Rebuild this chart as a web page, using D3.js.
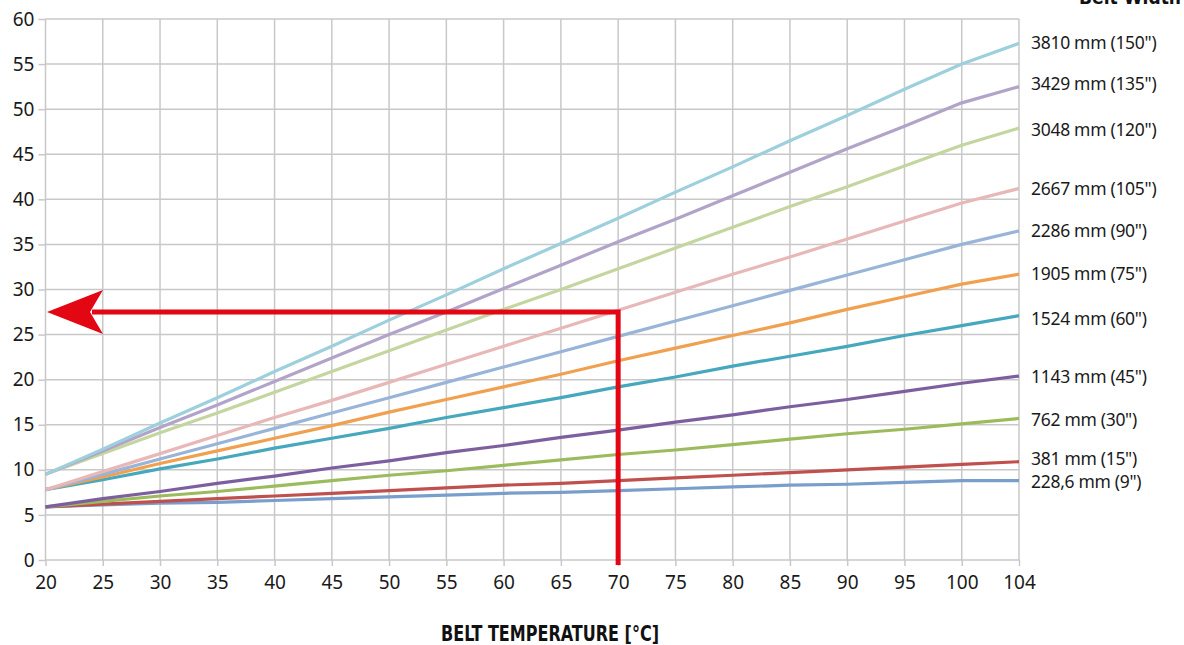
<!DOCTYPE html>
<html>
<head>
<meta charset="utf-8">
<script src="https://cdn.jsdelivr.net/npm/d3@7"></script>
<style>
  html, body { margin: 0; padding: 0; background: #fff; }
  svg { display: block; }
</style>
</head>
<body>
<svg id="chart" width="1184" height="645"></svg>
<script>
// ---- data ----
const categories = ["20","25","30","35","40","45","50","55","60","65","70","75","80","85","90","95","100","104"];
const yTicks = [0,5,10,15,20,25,30,35,40,45,50,55,60];
const seriesNames = ["3810 mm (150\")","3429 mm (135\")","3048 mm (120\")","2667 mm (105\")","2286 mm (90\")","1905 mm (75\")","1524 mm (60\")","1143 mm (45\")","762 mm (30\")","381 mm (15\")","228,6 mm (9\")"];
const s3810 = [9.5,12.3,15.2,18.0,20.9,23.7,26.6,29.4,32.3,35.1,37.9,40.8,43.6,46.5,49.3,52.2,55.0,57.3];
const s3429 = [9.5,12.1,14.7,17.2,19.8,22.4,25.0,27.5,30.1,32.7,35.3,37.8,40.4,43.0,45.6,48.1,50.7,52.5];
const s3048 = [9.5,11.8,14.1,16.3,18.6,20.9,23.2,25.5,27.8,30.0,32.3,34.6,36.9,39.2,41.4,43.7,46.0,47.9];
const s2667 = [7.8,9.8,11.8,13.8,15.8,17.7,19.7,21.7,23.7,25.7,27.7,29.7,31.7,33.6,35.6,37.6,39.6,41.2];
const s2286 = [7.8,9.5,11.2,12.9,14.6,16.3,18.0,19.7,21.4,23.1,24.8,26.5,28.2,29.9,31.6,33.3,35.0,36.5];
const s1905 = [7.8,9.2,10.7,12.1,13.5,14.9,16.4,17.8,19.2,20.6,22.1,23.5,24.9,26.3,27.8,29.2,30.6,31.7];
const s1524 = [7.8,8.9,10.1,11.2,12.4,13.5,14.6,15.8,16.9,18.0,19.2,20.3,21.5,22.6,23.7,24.9,26.0,27.1];
const s1143 = [5.9,6.8,7.6,8.5,9.3,10.2,11.0,11.9,12.7,13.6,14.4,15.3,16.1,17.0,17.8,18.7,19.6,20.4];
const s762  = [5.9,6.5,7.1,7.6,8.2,8.8,9.4,9.9,10.5,11.1,11.7,12.2,12.8,13.4,14.0,14.5,15.1,15.7];
const s381  = [5.9,6.2,6.5,6.8,7.1,7.4,7.7,8.0,8.3,8.5,8.8,9.1,9.4,9.7,10.0,10.3,10.6,10.9];
const s2286mm = [5.9,6.1,6.3,6.4,6.6,6.8,7.0,7.2,7.4,7.5,7.7,7.9,8.1,8.3,8.4,8.6,8.8,8.8];
const seriesValues = [s3810,s3429,s3048,s2667,s2286,s1905,s1524,s1143,s762,s381,s2286mm];
const seriesColors = ["#9dd0dc","#b2a3c9","#c4d69f","#e7b8b7","#98b4d8","#f0a04f","#45a8bd","#7d5fa0","#9cbb5c","#c0504d","#7a9ecb"];
const labelDy = [0,-3,2,0,0,0,3,1,1,-3,1];
const xTitle = "BELT TEMPERATURE [°C]";
const legendTitle = "Belt Width";
const arrowTemp = "70";
const arrowValue = 27.5;

// ---- layout ----
const svg = d3.select("#chart");
const mLeft = 45.5, mRight = 1019, mTop = 19, mBottom = 560;
const x = d3.scalePoint().domain(categories).range([mLeft, mRight]);
const y = d3.scaleLinear().domain([0, 60]).range([mBottom, mTop]);
const fontMain = "'Noto Sans', 'Open Sans', sans-serif";
const gridColor = "#c8c8c8";

// grid
svg.append("g").selectAll("line").data(yTicks).join("line")
  .attr("x1", mLeft).attr("x2", mRight)
  .attr("y1", d => y(d)).attr("y2", d => y(d))
  .attr("stroke", gridColor).attr("stroke-width", 1.5);
svg.append("g").selectAll("line").data(categories).join("line")
  .attr("x1", d => x(d)).attr("x2", d => x(d))
  .attr("y1", mTop).attr("y2", mBottom)
  .attr("stroke", gridColor).attr("stroke-width", 1.5);

// axes
const xAxis = svg.append("g").attr("transform", `translate(0,${mBottom})`)
  .call(d3.axisBottom(x).tickSize(6).tickPadding(14));
const yAxis = svg.append("g").attr("transform", `translate(${mLeft},0)`)
  .call(d3.axisLeft(y).tickValues(yTicks).tickSize(7).tickPadding(4));
[xAxis, yAxis].forEach(g => {
  g.select(".domain").remove();
  g.selectAll(".tick line").attr("stroke", gridColor).attr("stroke-width", 1.5);
  g.selectAll(".tick text").attr("fill", "#1a1a1a")
    .style("font-family", fontMain).style("font-size", "19px");
});
xAxis.selectAll(".tick text").attr("dy", "0.45em");

// lines
const line = d3.line().x((d, i) => x(categories[i])).y(d => y(d));
const order = d3.range(seriesValues.length).reverse();
svg.append("g").selectAll("path").data(order).join("path")
  .attr("d", i => line(seriesValues[i]))
  .attr("fill", "none")
  .attr("stroke", i => seriesColors[i])
  .attr("stroke-width", 3.2)
  .attr("stroke-linejoin", "round");

// series labels
svg.append("g").selectAll("text").data(seriesNames).join("text")
  .attr("x", mRight + 12)
  .attr("y", (d, i) => y(seriesValues[i][seriesValues[i].length - 1]) + labelDy[i])
  .attr("dy", "0.35em")
  .attr("fill", "#1a1a1a")
  .style("font-family", fontMain).style("font-size", "17.5px")
  .style("letter-spacing", "-0.3px")
  .text(d => d);

// legend title (clipped at top, as in the reference)
svg.append("text")
  .attr("x", 1181).attr("y", 4)
  .attr("text-anchor", "end")
  .attr("fill", "#111")
  .style("font-family", "'Liberation Sans Narrow', 'DejaVu Sans Condensed', 'Roboto', sans-serif")
  .style("font-weight", "bold").style("font-size", "19px")
  .text(legendTitle);

// x title
svg.append("text")
  .attr("x", (441 + 659) / 2).attr("y", 641)
  .attr("text-anchor", "middle")
  .attr("fill", "#111")
  .attr("textLength", 218).attr("lengthAdjust", "spacingAndGlyphs")
  .style("font-family", "'Liberation Sans Narrow', 'DejaVu Sans Condensed', 'Roboto', sans-serif")
  .style("font-weight", "bold").style("font-size", "22px")
  .text(xTitle);

// red arrow
const red = "#e30613";
const ax = x(arrowTemp), ay = y(arrowValue);
const tipX = x(categories[0]) + 1.5;
svg.append("path")
  .attr("d", `M${ax},${mBottom + 5} L${ax},${ay} L${tipX + 45},${ay}`)
  .attr("fill", "none").attr("stroke", red).attr("stroke-width", 5)
  .attr("stroke-linejoin", "miter");
svg.append("path")
  .attr("d", `M${tipX},${ay} L${tipX + 56},${ay - 22} L${tipX + 43},${ay} L${tipX + 56},${ay + 22} Z`)
  .attr("fill", red);
</script>
</body>
</html>
